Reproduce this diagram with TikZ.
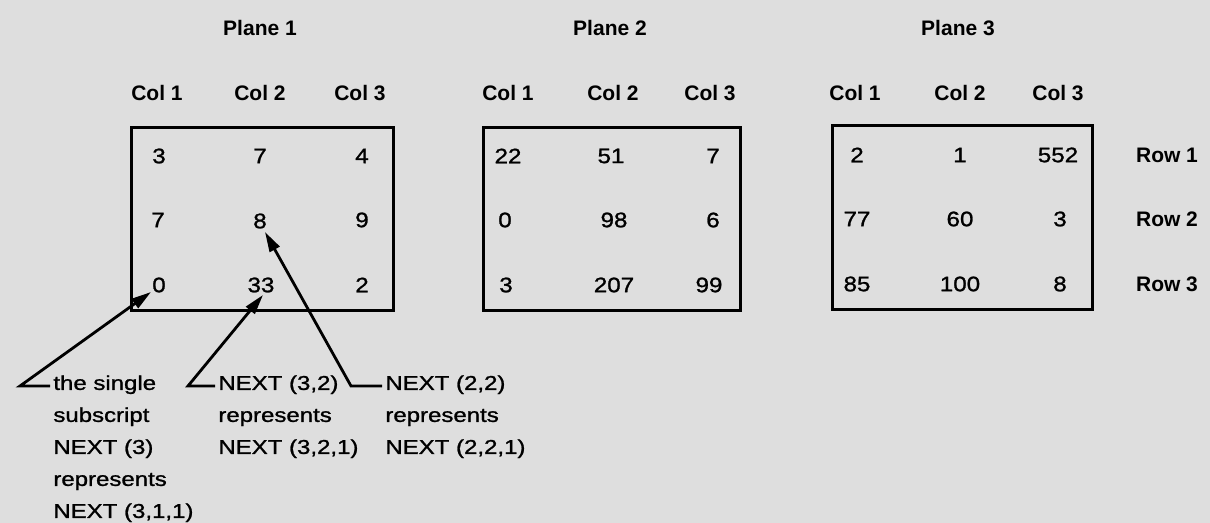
\documentclass[tikz,border=0pt]{standalone}
\usepackage{fontspec}
\setmainfont{Liberation Sans}
\newfontfamily\widefont[FakeStretch=1.15,FakeBold=1.2]{Liberation Sans}
\newfontfamily\notefont[FakeStretch=1.2,FakeBold=1.2]{Liberation Sans}
\usepackage{tikz}
\usetikzlibrary{arrows.meta, positioning}

\tikzset{
  heading/.style={font=\bfseries\fontsize{10.5}{12}\selectfont},
  entry/.style={font=\widefont\fontsize{10.5}{12}\selectfont},
  note/.style={font=\notefont\fontsize{10}{16}\selectfont, align=left, anchor=north west, inner sep=0pt},
  frame/.style={draw=black, line width=1.5pt},
  pointer/.style={draw=black, line width=1.4pt, -{Triangle[length=10pt,width=5.5pt]}}
}

\begin{document}
\begin{tikzpicture}[x=0.5pt, y=-0.5pt]
                % Paper
                \fill[black!13] (0,0) rectangle (1210,523);
                \useasboundingbox (0,0) rectangle (1210,523);
                % Plane frames
                \draw[frame] (131,128) rectangle (393,311);
                \draw[frame] (483,128) rectangle (740,311);
                \draw[frame] (832,126) rectangle (1092,310);
                % Plane titles
                \node[heading] (plane1) at (260,28) {Plane 1};
                \node[heading] (plane2) at (610,28) {Plane 2};
                \node[heading] (plane3) at (958,28) {Plane 3};
                % Column headings
                \node[heading] (p1c1) at (157,93) {Col 1};
                \node[heading] (p1c2) at (260,93) {Col 2};
                \node[heading] (p1c3) at (360,93) {Col 3};
                \node[heading] (p2c1) at (508,93) {Col 1};
                \node[heading] (p2c2) at (613,93) {Col 2};
                \node[heading] (p2c3) at (710,93) {Col 3};
                \node[heading] (p3c1) at (855,93) {Col 1};
                \node[heading] (p3c2) at (960,93) {Col 2};
                \node[heading] (p3c3) at (1058,93) {Col 3};
                % Row headings
                \node[heading] (row1) at (1167,155) {Row 1};
                \node[heading] (row2) at (1167,219) {Row 2};
                \node[heading] (row3) at (1167,284) {Row 3};
                % Plane 1 entries
                \node[entry] (p1r1c1) at (159,156) {3};
                \node[entry] (p1r1c2) at (260,156) {7};
                \node[entry] (p1r1c3) at (362,156) {4};
                \node[entry] (p1r2c1) at (158,220) {7};
                \node[entry] (p1r2c2) at (260,221) {8};
                \node[entry] (p1r2c3) at (362,220) {9};
                \node[entry] (p1r3c1) at (159,285) {0};
                \node[entry] (p1r3c2) at (261,285) {33};
                \node[entry] (p1r3c3) at (362,285) {2};
                % Plane 2 entries
                \node[entry] (p2r1c1) at (508,156) {22};
                \node[entry] (p2r1c2) at (611,156) {51};
                \node[entry] (p2r1c3) at (713,156) {7};
                \node[entry] (p2r2c1) at (505,220) {0};
                \node[entry] (p2r2c2) at (614,220) {98};
                \node[entry] (p2r2c3) at (713,220) {6};
                \node[entry] (p2r3c1) at (506,285) {3};
                \node[entry] (p2r3c2) at (614,285) {207};
                \node[entry] (p2r3c3) at (709,285) {99};
                % Plane 3 entries
                \node[entry] (p3r1c1) at (857,155) {2};
                \node[entry] (p3r1c2) at (960,155) {1};
                \node[entry] (p3r1c3) at (1058,155) {552};
                \node[entry] (p3r2c1) at (857,219) {77};
                \node[entry] (p3r2c2) at (960,219) {60};
                \node[entry] (p3r2c3) at (1060,219) {3};
                \node[entry] (p3r3c1) at (857,284) {85};
                \node[entry] (p3r3c2) at (960,284) {100};
                \node[entry] (p3r3c3) at (1060,284) {8};
                % Notes
                \node[note] (note1) at (53,375) {the single\\subscript\\NEXT (3)\\represents\\NEXT (3,1,1)};
                \node[note] (note2) at (218,375) {NEXT (3,2)\\represents\\NEXT (3,2,1)};
                \node[note] (note3) at (385,375) {NEXT (2,2)\\represents\\NEXT (2,2,1)};
                % Leader bends
                \coordinate (bend1) at (20,386);
                \coordinate (bend2) at (188,386);
                \coordinate (bend3) at (351,386);
                % Pointers
                \draw[pointer] ([shift={(-3,11)}]note1.north west) -- (bend1) -- ([shift={(-8,7)}]p1r3c1.center);
                \draw[pointer] ([shift={(-3,11)}]note2.north west) -- (bend2) -- ([shift={(2,10)}]p1r3c2.center);
                \draw[pointer] ([shift={(-3,11)}]note3.north west) -- (bend3) -- ([shift={(5,11)}]p1r2c2.center);
\end{tikzpicture}
\end{document}
